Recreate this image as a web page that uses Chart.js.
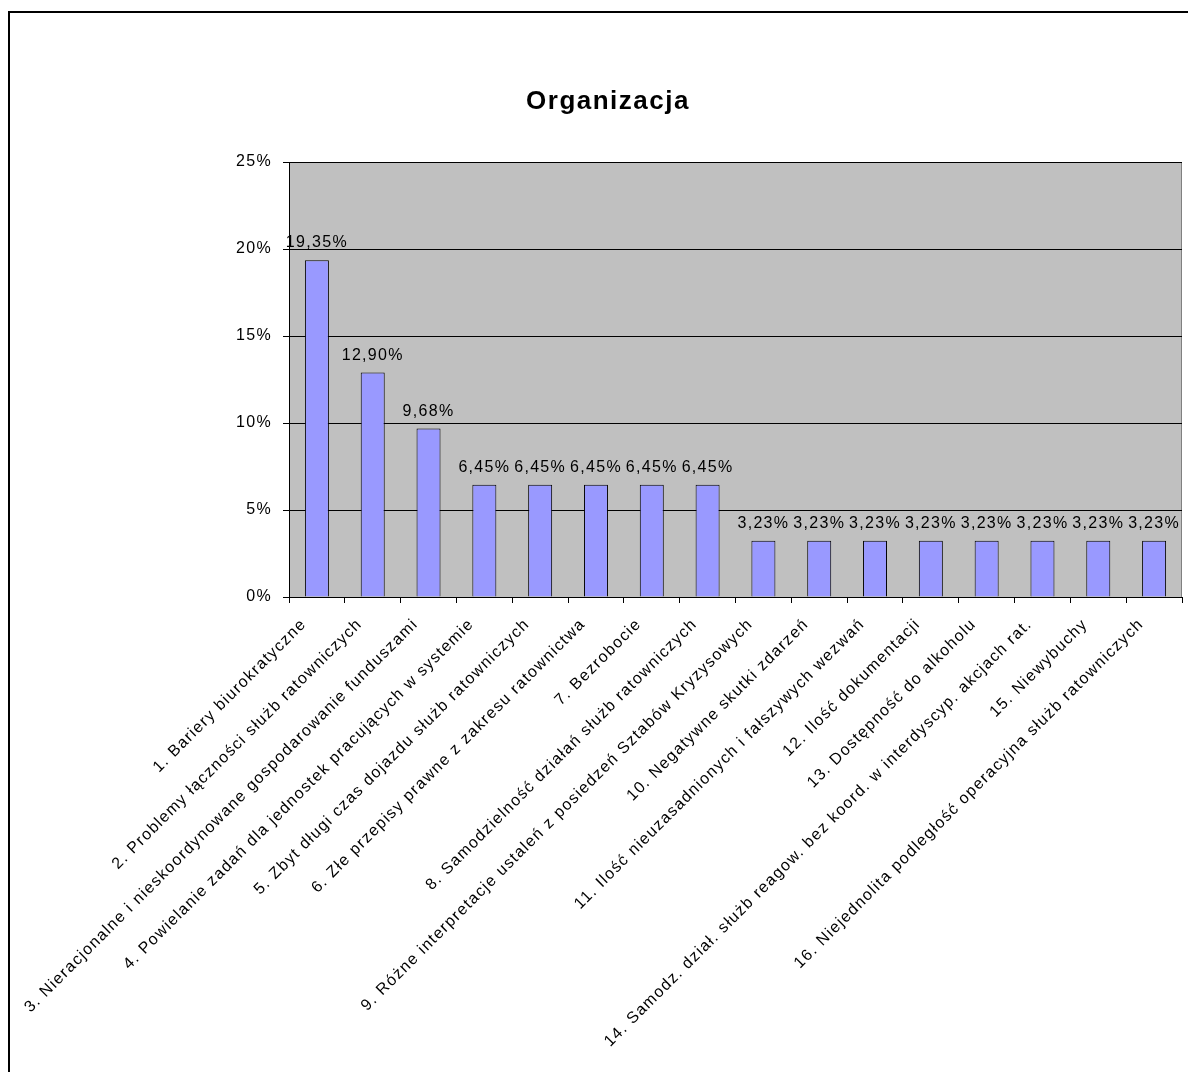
<!DOCTYPE html>
<html>
<head>
<meta charset="utf-8">
<script src="https://cdn.jsdelivr.net/npm/chart.js@4"></script>
<style>
    html, body { margin: 0; padding: 0; background: #fff; }
    #ramka {
        position: absolute;
        left: 8px;
        top: 11px;
        width: 1300px;
        height: 1200px;
        border-top: 2px solid #000;
        border-left: 2px solid #000;
    }
    #wrap { position: absolute; left: 0; top: 0; width: 1188px; height: 1072px; }
</style>
</head>
<body>
<div id="ramka"></div>
<div id="wrap"><canvas id="grafico"></canvas></div>
<script>
const etykiety = [
    "1. Bariery biurokratyczne",
    "2. Problemy łączności służb ratowniczych",
    "3. Nieracjonalne i nieskoordynowane gospodarowanie funduszami",
    "4. Powielanie zadań dla jednostek pracujących w systemie",
    "5. Zbyt długi czas dojazdu służb ratowniczych",
    "6. Złe przepisy prawne z zakresu ratownictwa",
    "7. Bezrobocie",
    "8. Samodzielność działań służb ratowniczych",
    "9. Różne interpretacje ustaleń z posiedzeń Sztabów Kryzysowych",
    "10. Negatywne skutki zdarzeń",
    "11. Ilość nieuzasadnionych i fałszywych wezwań",
    "12. Ilość dokumentacji",
    "13. Dostępność do alkoholu",
    "14. Samodz. dział. służb reagow. bez koord. w interdyscyp. akcjach rat.",
    "15. Niewybuchy",
    "16. Niejednolita podległość operacyjna służb ratowniczych"
];
const procenty = [19.35, 12.90, 9.68, 6.45, 6.45, 6.45, 6.45, 6.45,
    3.23, 3.23, 3.23, 3.23, 3.23, 3.23, 3.23, 3.23];
const osY = [0, 5, 10, 15, 20, 25];
const tytul = "Organizacja";

const FONT = "'Liberation Sans', Arial, sans-serif";
const ODSTEP = "1.3px";

Chart.defaults.font.family = FONT;
Chart.defaults.font.size = 16;
Chart.defaults.color = "#000";

const wyglad = {
    id: "wyglad",
    beforeUpdate(chart) {
        chart.ctx.letterSpacing = ODSTEP;
    },
    beforeDraw(chart) {
        const ctx = chart.ctx;
        ctx.letterSpacing = ODSTEP;
        const a = chart.chartArea;
        ctx.save();
        ctx.fillStyle = "#C0C0C0";
        ctx.fillRect(a.left, a.top, a.right - a.left, a.bottom - a.top);
        ctx.strokeStyle = "#808080";
        ctx.lineWidth = 1;
        ctx.strokeRect(a.left + 0.5, a.top + 0.5, a.right - a.left - 1, a.bottom - a.top);
        ctx.restore();

        ctx.save();
        ctx.font = "bold 26px " + FONT;
        ctx.letterSpacing = "1.5px";
        ctx.textAlign = "center";
        ctx.textBaseline = "alphabetic";
        ctx.fillStyle = "#000";
        ctx.fillText(tytul, 608, 109);
        ctx.restore();
    },
    afterDatasetsDraw(chart) {
        const ctx = chart.ctx;
        const meta = chart.getDatasetMeta(0);
        ctx.save();
        ctx.font = "16px " + FONT;
        ctx.letterSpacing = ODSTEP;
        ctx.textAlign = "center";
        ctx.textBaseline = "alphabetic";
        ctx.fillStyle = "#000";
        meta.data.forEach((bar, i) => {
            const txt = procenty[i].toFixed(2).replace(".", ",") + "%";
            ctx.fillText(txt, bar.x, bar.y - 13);
        });
        ctx.restore();
    }
};

new Chart(document.getElementById("grafico"), {
    type: "bar",
    data: {
        labels: etykiety,
        datasets: [{
            data: procenty,
            backgroundColor: "#9999FF",
            borderColor: "#000",
            borderWidth: 1,
            barPercentage: 0.43,
            categoryPercentage: 1
        }]
    },
    options: {
        responsive: true,
        maintainAspectRatio: false,
        animation: false,
        layout: { padding: { top: 162, right: 6, bottom: 0, left: 0 } },
        plugins: {
            legend: { display: false },
            title: { display: false },
            tooltip: { enabled: false }
        },
        scales: {
            x: {
                grid: {
                    offset: true,
                    drawOnChartArea: false,
                    drawTicks: true,
                    tickLength: 6,
                    color: "#000"
                },
                border: { color: "#000" },
                ticks: {
                    autoSkip: false,
                    minRotation: 45,
                    maxRotation: 45,
                    padding: 12,
                    labelOffset: -13,
                    font: { size: 16 }
                },
                afterFit(scale) { scale.height = 475; }
            },
            y: {
                min: 0,
                max: 25,
                afterBuildTicks(scale) {
                    scale.ticks = osY.map(v => ({ value: v }));
                },
                grid: {
                    color: "#000",
                    tickLength: 6
                },
                border: { color: "#000" },
                ticks: {
                    padding: 11,
                    font: { size: 16 },
                    callback: v => v + "%"
                },
                afterFit(scale) { scale.width = 289; }
            }
        }
    },
    plugins: [wyglad]
});
</script>
</body>
</html>
